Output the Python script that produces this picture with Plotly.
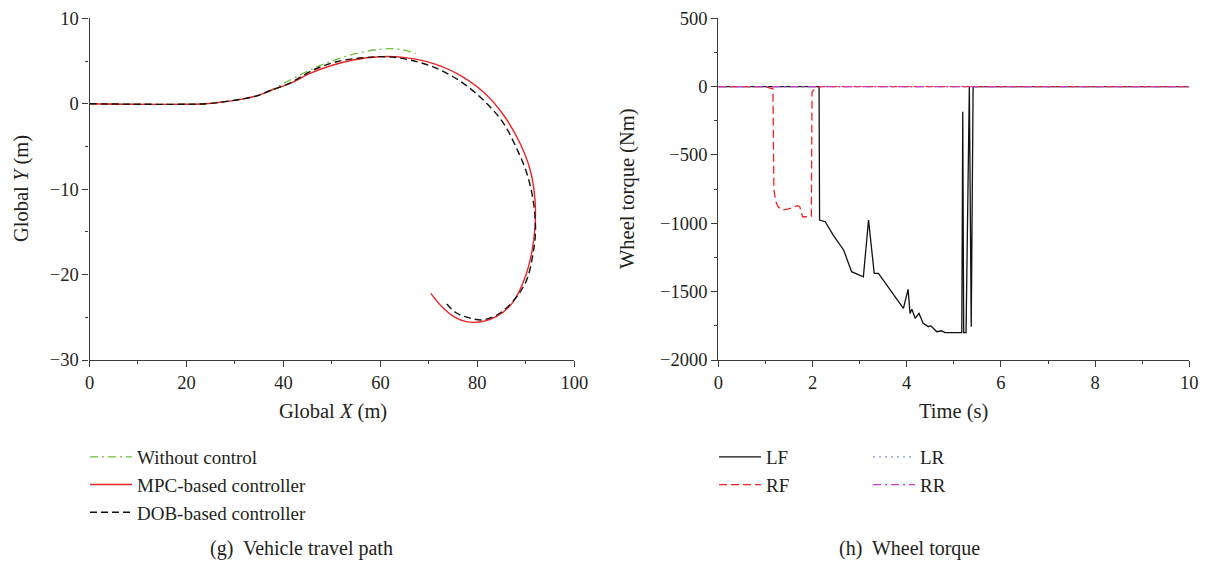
import plotly.graph_objects as go

# ---------------- data: (g) vehicle travel path ----------------
noctrl_x = [0, 24, 28, 32, 35, 37.2, 41.4, 45.5, 49.6, 55.1, 60.6, 64.0, 67.3]
noctrl_y = [0, 0, 0.25, 0.6, 1.0, 1.55, 2.78, 3.95, 4.92, 5.9, 6.41, 6.37, 5.9]

mpc_x = [0, 24, 28, 32, 35, 37.2, 41.4, 45.5, 49.6, 54.4, 59.9, 64.7, 69.6, 75.7, 81.2,
         85.4, 88.8, 90.9, 91.9, 91.9, 91.2, 89.8, 87.4, 84.0, 79.2, 75.7, 73.0, 70.4]
mpc_y = [0, 0, 0.25, 0.6, 1.0, 1.52, 2.39, 3.56, 4.42, 5.12, 5.5, 5.43, 4.92, 3.56, 1.41,
         -1.32, -4.63, -7.76, -11.27, -14.4, -17.5, -20.4, -23.2, -24.9, -25.6, -25.1, -23.95, -22.2]

dob_x = [0, 24, 28, 32, 35, 37.2, 41.4, 46.2, 51.0, 56.5, 61.3, 66.1, 71.6, 77.1, 81.9,
         85.4, 88.1, 90.2, 91.5, 92.0, 91.5, 90.2, 88.1, 84.7, 81.2, 78.5, 75.7, 73.7]
dob_y = [0, 0, 0.25, 0.6, 1.0, 1.52, 2.45, 3.95, 4.92, 5.39, 5.5, 5.12, 4.15, 2.39, 0.05,
         -2.29, -5.22, -8.14, -11.27, -14.8, -17.5, -20.6, -22.6, -24.5, -25.3, -25.1, -24.5, -23.45]

# ---------------- data: (h) wheel torque ----------------
lf_t = [0, 2.14, 2.15, 2.27, 2.44, 2.66, 2.83, 3.08, 3.19, 3.31, 3.40, 3.93, 4.03, 4.07,
        4.11, 4.18, 4.26, 4.35, 4.46, 4.51, 4.64, 4.74, 4.81, 5.17, 5.19, 5.21, 5.26,
        5.33, 5.37, 5.41, 10]
lf_v = [0, 0, -976, -988, -1086, -1195, -1354, -1391, -976, -1366, -1366, -1622, -1483, -1659,
        -1629, -1695, -1659, -1732, -1756, -1749, -1793, -1786, -1800, -1800, -184, -1800, -1800,
        0, -1757, 0, 0]

rf_t = [0, 0.96, 1.13, 1.16, 1.18, 1.22, 1.27, 1.35, 1.49, 1.68, 1.73, 1.79, 1.88, 1.975,
        1.99, 2.05, 2.16, 10]
rf_v = [0, 0, -12, -15, -756, -840, -879, -903, -895, -871, -879, -952, -952, -947,
        -37, -20, 0, 0]

lr_t = [0, 10]
lr_v = [0, 0]
rr_t = [0, 10]
rr_v = [0, 0]

FONT = "Liberation Serif"
W, H = 1210, 565
AX = "#3a3a3a"
TXT = "#231f20"

def px(x):
    return x / W

def py(y):
    return (H - y) / H

fig = go.Figure()

# left panel traces
fig.add_trace(go.Scatter(x=noctrl_x, y=noctrl_y, mode="lines", name="Without control",
                         line=dict(color="#6cbf3c", width=1.3, dash="8px,4px,2px,4px", shape="spline"),
                         xaxis="x", yaxis="y", legend="legend"))
fig.add_trace(go.Scatter(x=mpc_x, y=mpc_y, mode="lines", name="MPC-based controller",
                         line=dict(color="#ee2424", width=1.4, shape="spline"),
                         xaxis="x", yaxis="y", legend="legend"))
fig.add_trace(go.Scatter(x=dob_x, y=dob_y, mode="lines", name="DOB-based controller",
                         line=dict(color="#111111", width=1.4, dash="7px,4px", shape="spline"),
                         xaxis="x", yaxis="y", legend="legend"))

# right panel traces
fig.add_trace(go.Scatter(x=lf_t, y=lf_v, mode="lines", name="LF",
                         line=dict(color="#111111", width=1.3),
                         xaxis="x2", yaxis="y2", legend="legend2"))
fig.add_trace(go.Scatter(x=rf_t, y=rf_v, mode="lines", name="RF",
                         line=dict(color="#ee2424", width=1.3, dash="8px,4px"),
                         xaxis="x2", yaxis="y2", legend="legend2"))
fig.add_trace(go.Scatter(x=lr_t, y=lr_v, mode="lines", name="LR",
                         line=dict(color="#7f8fd6", width=1.3, dash="2px,4px"),
                         xaxis="x2", yaxis="y2", legend="legend3"))
fig.add_trace(go.Scatter(x=rr_t, y=rr_v, mode="lines", name="RR",
                         line=dict(color="#c83cc8", width=1.3, dash="8px,4px,2px,4px"),
                         xaxis="x2", yaxis="y2", legend="legend3"))

def axis(domain, rng, dtick, minor, anchor):
    return dict(domain=domain, range=rng, dtick=dtick, tick0=rng[0],
                showline=True, linecolor=AX, linewidth=1.3, mirror=False,
                ticks="outside", ticklen=6, tickwidth=1.2, tickcolor=AX,
                minor=dict(dtick=minor, ticks="outside", ticklen=3, tickwidth=1.1, tickcolor=AX),
                showgrid=False, zeroline=False, anchor=anchor, automargin=False,
                tickfont=dict(family=FONT, size=18.5, color=TXT), fixedrange=True)

xd1 = [px(89.5), px(574.3)]
xd2 = [px(718.3), px(1189.3)]
yd = [py(360), py(18.3)]

legfont = dict(family=FONT, size=19, color=TXT)

fig.update_layout(
    width=W, height=H, autosize=False,
    margin=dict(l=0, r=0, t=0, b=0),
    paper_bgcolor="white", plot_bgcolor="white",
    font=dict(family=FONT, color=TXT),
    xaxis=axis(xd1, [0, 100], 20, 10, "y"),
    yaxis=axis(yd, [-30, 10], 10, 5, "x"),
    xaxis2=axis(xd2, [0, 10], 2, 1, "y2"),
    yaxis2=axis(yd, [-2000, 500], 500, 250, "x2"),
    legend=dict(x=px(85), y=py(438), xanchor="left", yanchor="top", font=legfont,
                bgcolor="rgba(0,0,0,0)", borderwidth=0, itemwidth=42),
    legend2=dict(x=px(714), y=py(438), xanchor="left", yanchor="top", font=legfont,
                 bgcolor="rgba(0,0,0,0)", borderwidth=0, itemwidth=42),
    legend3=dict(x=px(868), y=py(438), xanchor="left", yanchor="top", font=legfont,
                 bgcolor="rgba(0,0,0,0)", borderwidth=0, itemwidth=42),
    showlegend=True,
)

annots = [
    dict(text="Global <i>X</i> (m)", x=px(333), y=py(411), textangle=0),
    dict(text="Global <i>Y</i> (m)", x=px(21), y=py(189), textangle=-90),
    dict(text="Time (s)", x=px(953.8), y=py(411), textangle=0),
    dict(text="Wheel torque (Nm)", x=px(627), y=py(189), textangle=-90),
]
for a in annots:
    fig.add_annotation(text=a["text"], x=a["x"], y=a["y"], xref="paper", yref="paper",
                       xanchor="center", yanchor="middle", showarrow=False, textangle=a["textangle"],
                       font=dict(family=FONT, size=20.5, color=TXT))

fig.add_annotation(text="(g)  Vehicle travel path", x=px(301), y=py(548), xref="paper", yref="paper",
                   xanchor="center", yanchor="middle", showarrow=False,
                   font=dict(family=FONT, size=20, color=TXT))
fig.add_annotation(text="(h)  Wheel torque", x=px(909), y=py(548), xref="paper", yref="paper",
                   xanchor="center", yanchor="middle", showarrow=False,
                   font=dict(family=FONT, size=20, color=TXT))

fig.write_html("out.html", config={"displayModeBar": False},
               post_script="document.body.style.margin='0';document.body.style.padding='0';")
